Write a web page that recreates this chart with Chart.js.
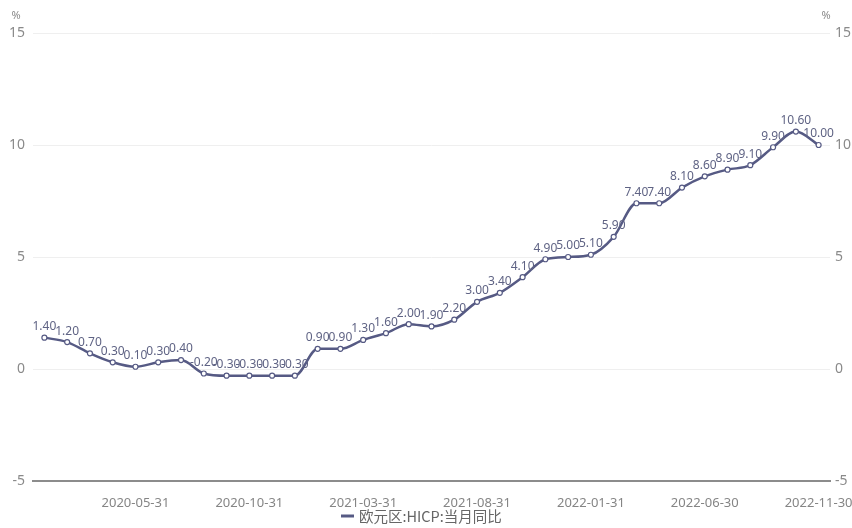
<!DOCTYPE html>
<html>
<head>
<meta charset="utf-8">
<script src="https://cdn.jsdelivr.net/npm/chart.js@4.4.4/dist/chart.umd.min.js"></script>
<style>
  html, body { margin: 0; padding: 0; background: #fff; }
  #wrap { width: 852px; height: 528px; position: relative; }
</style>
</head>
<body>
<div id="wrap"><canvas id="chart"></canvas></div>
<script>
// monthly dates, Jan 2020 - Nov 2022
const months = [
  '2020-01-31', '2020-02-29', '2020-03-31', '2020-04-30', '2020-05-31', '2020-06-30',
  '2020-07-31', '2020-08-31', '2020-09-30', '2020-10-31', '2020-11-30', '2020-12-31',
  '2021-01-31', '2021-02-28', '2021-03-31', '2021-04-30', '2021-05-31', '2021-06-30',
  '2021-07-31', '2021-08-31', '2021-09-30', '2021-10-31', '2021-11-30', '2021-12-31',
  '2022-01-31', '2022-02-28', '2022-03-31', '2022-04-30', '2022-05-31', '2022-06-30',
  '2022-07-31', '2022-08-31', '2022-09-30', '2022-10-31', '2022-11-30',
];
const hicpYoY = [
  1.4, 1.2, 0.7, 0.3, 0.1, 0.3, 0.4, -0.2, -0.3, -0.3, -0.3, -0.3,
  0.9, 0.9, 1.3, 1.6, 2.0, 1.9, 2.2, 3.0, 3.4, 4.1, 4.9, 5.0,
  5.1, 5.9, 7.4, 7.4, 8.1, 8.6, 8.9, 9.1, 9.9, 10.6, 10.0,
];
const yTicks = [-5, 0, 5, 10, 15];
const seriesName = '欧元区:HICP:当月同比';

const LINE = '#565a84';
const TICK = '#8a8a8a';

// value labels above each point
const valueLabels = {
  id: 'valueLabels',
  afterDatasetsDraw(chart) {
    const { ctx } = chart;
    const meta = chart.getDatasetMeta(0);
    ctx.save();
    ctx.font = '12px "Noto Sans", sans-serif';
    ctx.fillStyle = '#5f6384';
    ctx.textAlign = 'center';
    ctx.textBaseline = 'bottom';
    meta.data.forEach((pt, i) => {
      ctx.fillText(hicpYoY[i].toFixed(2), pt.x, pt.y - 5);
    });
    ctx.restore();
  },
};

// "%" units over both axes and the legend under the axis
const extras = {
  id: 'extras',
  afterDraw(chart) {
    const { ctx } = chart;
    ctx.save();
    ctx.font = '11px "Noto Sans", sans-serif';
    ctx.fillStyle = TICK;
    ctx.textAlign = 'center';
    ctx.textBaseline = 'middle';
    ctx.fillText('%', 16, 16);
    ctx.fillText('%', 826, 16);

    const x0 = 341;
    const y = 516;
    ctx.strokeStyle = LINE;
    ctx.lineWidth = 3;
    ctx.beginPath();
    ctx.moveTo(x0, y);
    ctx.lineTo(x0 + 13, y);
    ctx.stroke();
    ctx.font = '14.5px "Noto Sans CJK SC", sans-serif';
    ctx.fillStyle = '#666';
    ctx.textAlign = 'left';
    ctx.fillText(seriesName, x0 + 18, y);
    ctx.restore();
  },
};

const yAxisBase = {
  type: 'linear',
  min: -5,
  max: 15,
  afterBuildTicks: (axis) => { axis.ticks = yTicks.map(v => ({ value: v })); },
  border: { display: false },
  ticks: { color: TICK, font: { size: 14, family: '"Noto Sans", sans-serif' } },
};

new Chart(document.getElementById('chart'), {
  type: 'line',
  data: {
    labels: months,
    datasets: [{
      label: seriesName,
      data: hicpYoY,
      borderColor: LINE,
      borderWidth: 2.5,
      cubicInterpolationMode: 'monotone',
      pointRadius: 2.5,
      pointBorderWidth: 1.2,
      pointBackgroundColor: '#fff',
      pointBorderColor: LINE,
      yAxisID: 'y',
    }],
  },
  options: {
    responsive: true,
    maintainAspectRatio: false,
    animation: false,
    layout: { padding: { top: 33, left: 0, right: 0, bottom: 0 } },
    plugins: { legend: { display: false }, tooltip: { enabled: false } },
    scales: {
      x: {
        offset: true,
        grid: { display: false },
        border: { color: '#8c8c8c', width: 2 },
        afterFit: (axis) => {
          axis.height = 47;
          axis.paddingLeft = 0;
          axis.paddingRight = 0;
        },
        ticks: {
          autoSkip: false,
          maxRotation: 0,
          padding: 6,
          color: '#858585',
          font: { size: 13, family: '"Noto Sans", sans-serif' },
          callback: (v, i) => ((i - 4) % 5 === 0 ? months[i] : ''),
        },
      },
      y: {
        ...yAxisBase,
        position: 'left',
        afterFit: (axis) => { axis.width = 33; },
        grid: { color: '#efefef', lineWidth: (c) => (c.tick.value === -5 ? 0 : 1), drawTicks: false },
        ticks: { ...yAxisBase.ticks, padding: 8 },
      },
      y2: {
        ...yAxisBase,
        position: 'right',
        afterFit: (axis) => { axis.width = 22; },
        grid: { display: false, drawTicks: false },
        ticks: { ...yAxisBase.ticks, padding: 5 },
      },
    },
  },
  plugins: [valueLabels, extras],
});
</script>
</body>
</html>
